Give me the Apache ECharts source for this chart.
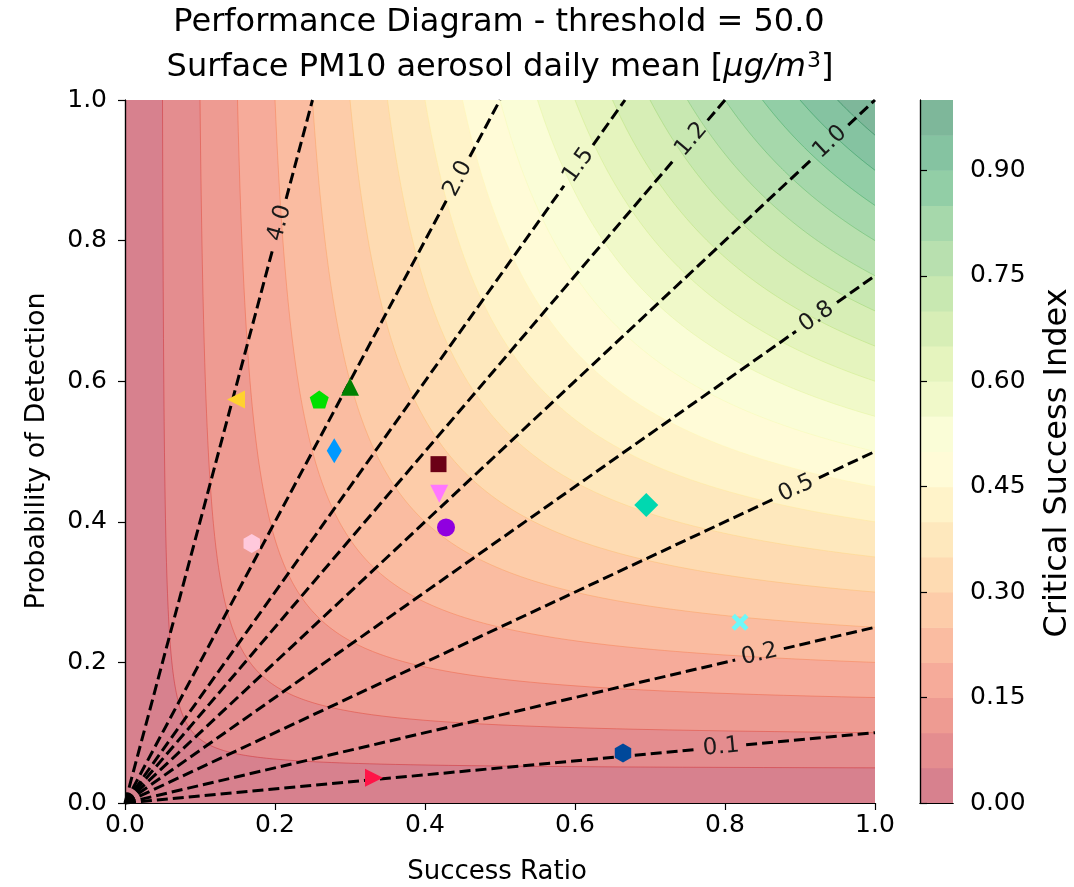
<!DOCTYPE html>
<html>
<head>
<meta charset="utf-8">
<title>Performance Diagram</title>
<script src="https://cdn.jsdelivr.net/npm/echarts@6/dist/echarts.min.js"></script>
<style>
  html, body { margin: 0; padding: 0; background: #ffffff; }
  #chart { width: 1074px; height: 887px; }
</style>
</head>
<body>
<div id="chart"></div>
<script>
// ---- data ---------------------------------------------------------------
// Verification scores of each forecast (success ratio, probability of detection)
const successRatio  = [0.148, 0.259, 0.300, 0.279, 0.418, 0.419, 0.428, 0.169, 0.695, 0.820, 0.664, 0.332];
const probDetection = [0.574, 0.574, 0.592, 0.501, 0.482, 0.440, 0.392, 0.369, 0.424, 0.257, 0.071, 0.036];

// Critical success index levels of the filled background
const csiLevels = [0.00, 0.05, 0.10, 0.15, 0.20, 0.25, 0.30, 0.35, 0.40, 0.45, 0.50,
                   0.55, 0.60, 0.65, 0.70, 0.75, 0.80, 0.85, 0.90, 0.95, 1.00];

// Frequency bias isolines
const biasLevels = [0.1, 0.25, 0.5, 0.75, 1.0, 1.25, 1.5, 2.0, 4.0];

// Tick labels
const axisTicks = [0.0, 0.2, 0.4, 0.6, 0.8, 1.0];
const colorbarTicks = [0.00, 0.15, 0.30, 0.45, 0.60, 0.75, 0.90];

// ---- styling ------------------------------------------------------------
const FONT = '"DejaVu Sans", "Liberation Sans", sans-serif';
const markerColors = ['#ffd22e', '#00e000', '#008000', '#0099ff', '#6b0016', '#ff77ff',
                      '#9000e0', '#ffc9dc', '#00d8b0', '#6ef8f8', '#00489a', '#ff1447'];
const markerShapes = ['triLeft', 'pentagon', 'triUp', 'thinDiamond', 'square', 'triDown',
                      'circle', 'hexagon', 'diamond', 'xFilled', 'hexagon', 'triRight'];
// where each bias label sits, as a fraction of its line length
const biasLabelAt = [0.795, 0.846, 0.895, 0.922, 0.94, 0.944, 0.907, 0.888, 0.825];

const SHAPES = {
  triUp:      { symbol: 'triangle', size: 18, rotate: 0 },
  triDown:    { symbol: 'triangle', size: 18, rotate: 180 },
  triLeft:    { symbol: 'triangle', size: 18, rotate: 90 },
  triRight:   { symbol: 'triangle', size: 18, rotate: -90 },
  square:     { symbol: 'rect', size: 16, rotate: 0 },
  circle:     { symbol: 'circle', size: 18, rotate: 0 },
  diamond:    { symbol: 'diamond', size: 24, rotate: 0 },
  thinDiamond:{ symbol: 'diamond', size: [15, 25], rotate: 0 },
  pentagon:   { symbol: 'path://M50,0L97.55,34.55L79.39,90.45L20.61,90.45L2.45,34.55Z', size: 19, rotate: 0 },
  hexagon:    { symbol: 'path://M50,0L93.3,25L93.3,75L50,100L6.7,75L6.7,25Z', size: 19, rotate: 0 },
  xFilled:    { symbol: 'path://M0,20L20,0L50,30L80,0L100,20L70,50L100,80L80,100L50,70L20,100L0,80L30,50Z', size: 17, rotate: 0 }
};

// RdYlGn colour ramp, shown semi-transparent over white
const RDYLGN = ['#a50026', '#d73027', '#f46d43', '#fdae61', '#fee08b', '#ffffbf',
                '#d9ef8b', '#a6d96a', '#66bd63', '#1a9850', '#006837'];
const FILL_ALPHA = 0.52;

function hexToRgb(h) {
  return [parseInt(h.slice(1, 3), 16), parseInt(h.slice(3, 5), 16), parseInt(h.slice(5, 7), 16)];
}
function rampColor(t) {
  const s = Math.max(0, Math.min(1, t)) * (RDYLGN.length - 1);
  const i = Math.min(RDYLGN.length - 2, Math.floor(s));
  const f = s - i;
  const a = hexToRgb(RDYLGN[i]), b = hexToRgb(RDYLGN[i + 1]);
  return a.map((v, k) => v + (b[k] - v) * f);
}
function overWhite(rgb, alpha) {
  const c = rgb.map(v => Math.round(255 - alpha * (255 - v)));
  return 'rgb(' + c.join(',') + ')';
}
function rgba(rgb, alpha) {
  return 'rgba(' + rgb.map(v => Math.round(v)).join(',') + ',' + alpha + ')';
}
// colour of band between csiLevels[i] and csiLevels[i+1]
function bandRgb(i) {
  return rampColor((csiLevels[i] + csiLevels[i + 1]) / 2);
}

// Iso-CSI curve: 1/SR + 1/POD = 1/c + 1, traced from (c, 1) to (1, c)
function csiCurve(c, steps) {
  const K = 1 / c + 1;
  const a0 = Math.atan2(1, c), a1 = Math.atan2(c, 1);
  const pts = [];
  for (let k = 0; k <= steps; k++) {
    const th = a0 + (a1 - a0) * k / steps;
    const tn = Math.tan(th);
    pts.push([(1 + 1 / tn) / K, (1 + tn) / K]);
  }
  return pts;
}

// one-decimal label, rounding halves to even
function fmt1(v) {
  const s = v * 10, f = Math.floor(s + 1e-9);
  const r = Math.abs(s - f - 0.5) < 1e-9 ? (f % 2 === 0 ? f : f + 1) : Math.round(s);
  return (r / 10).toFixed(1);
}

const bands = csiLevels.slice(0, -1).map((lo, i) => [lo, csiLevels[i + 1]]);

const points = successRatio.map((sr, i) => {
  const sh = SHAPES[markerShapes[i]];
  return {
    value: [sr, probDetection[i]],
    symbol: sh.symbol,
    symbolSize: sh.size,
    symbolRotate: sh.rotate,
    itemStyle: { color: markerColors[i], opacity: 1 }
  };
});

const frameLine = { show: true, lineStyle: { color: '#000', width: 1.2 } };
const tickStyle = { show: true, inside: false, length: 7, lineStyle: { color: '#000', width: 1.2 } };
const tickLabel = { color: '#000', fontSize: 25, fontFamily: FONT };

const chart = echarts.init(document.getElementById('chart'), null, { renderer: 'canvas' });

chart.setOption({
  backgroundColor: '#ffffff',
  animation: false,
  grid: [
    { left: 125, top: 100, width: 750, height: 703 },
    { left: 920, top: 100, width: 33, height: 703 }
  ],
  xAxis: [
    { type: 'value', gridIndex: 0, position: 'bottom', min: 0, max: 1, interval: 0.2, z: 10,
      axisLine: frameLine, axisTick: tickStyle, splitLine: { show: false },
      axisLabel: Object.assign({ margin: 10, formatter: v => v.toFixed(1) }, tickLabel) },
    { type: 'value', gridIndex: 0, position: 'top', min: 0, max: 1, z: 10,
      axisLine: frameLine, axisTick: { show: false }, axisLabel: { show: false }, splitLine: { show: false } },
    { type: 'value', gridIndex: 1, position: 'bottom', min: 0, max: 1, z: 10,
      axisLine: frameLine, axisTick: { show: false }, axisLabel: { show: false }, splitLine: { show: false } },
    { type: 'value', gridIndex: 1, position: 'top', min: 0, max: 1, z: 10,
      axisLine: frameLine, axisTick: { show: false }, axisLabel: { show: false }, splitLine: { show: false } }
  ],
  yAxis: [
    { type: 'value', gridIndex: 0, position: 'left', min: 0, max: 1, interval: 0.2, z: 10,
      axisLine: frameLine, axisTick: tickStyle, splitLine: { show: false },
      axisLabel: Object.assign({ margin: 18, formatter: v => v.toFixed(1) }, tickLabel) },
    { type: 'value', gridIndex: 0, position: 'right', min: 0, max: 1, z: 10,
      axisLine: frameLine, axisTick: { show: false }, axisLabel: { show: false }, splitLine: { show: false } },
    { type: 'value', gridIndex: 1, position: 'right', min: 0, max: 1, z: 10,
      axisLine: frameLine, splitLine: { show: false },
      axisTick: Object.assign({ customValues: colorbarTicks }, tickStyle),
      axisLabel: Object.assign({ margin: 17, customValues: colorbarTicks, formatter: v => v.toFixed(2) }, tickLabel) },
    { type: 'value', gridIndex: 1, position: 'left', min: 0, max: 1, z: 10,
      axisLine: frameLine, axisTick: { show: false }, axisLabel: { show: false }, splitLine: { show: false } }
  ],
  series: [
    // filled CSI background: each item paints the region CSI >= lower level
    {
      type: 'custom', xAxisIndex: 0, yAxisIndex: 0, z: 1, silent: true,
      data: bands,
      renderItem: function (params, api) {
        const i = params.dataIndex;
        const lo = api.value(0);
        const rgb = bandRgb(i);
        if (lo <= 0) {
          const corners = [[0, 0], [1, 0], [1, 1], [0, 1]].map(p => api.coord(p));
          return { type: 'polygon', shape: { points: corners }, style: { fill: overWhite(rgb, FILL_ALPHA) } };
        }
        const curve = csiCurve(lo, 160).map(p => api.coord(p));
        const region = curve.concat([api.coord([1, 1])]);
        return {
          type: 'group',
          children: [
            { type: 'polygon', shape: { points: region }, style: { fill: overWhite(rgb, FILL_ALPHA) } },
            { type: 'polyline', shape: { points: curve }, style: { stroke: rgba(rgb, 0.45), lineWidth: 1, fill: null } }
          ]
        };
      }
    },
    // frequency bias isolines with inline labels
    {
      type: 'custom', xAxisIndex: 0, yAxisIndex: 0, z: 3, silent: true,
      data: biasLevels.map(b => [b]),
      renderItem: function (params, api) {
        const b = api.value(0);
        const end = b >= 1 ? [1 / b, 1] : [1, b];
        const p0 = api.coord([0, 0]), p1 = api.coord(end);
        const dx = p1[0] - p0[0], dy = p1[1] - p0[1];
        const len = Math.hypot(dx, dy);
        const ux = dx / len, uy = dy / len;
        const t = biasLabelAt[params.dataIndex];
        const cx = p0[0] + dx * t, cy = p0[1] + dy * t;
        const half = 25;
        const st = { stroke: '#000', lineWidth: 3, lineDash: [11, 5], fill: null };
        return {
          type: 'group',
          children: [
            { type: 'line', shape: { x1: p0[0], y1: p0[1], x2: cx - ux * half, y2: cy - uy * half }, style: st },
            { type: 'line', shape: { x1: cx + ux * half, y1: cy + uy * half, x2: p1[0], y2: p1[1] }, style: st },
            { type: 'text', x: cx, y: cy, rotation: Math.atan2(-dy, dx),
              style: { text: fmt1(b), fill: '#1a1a1a', fontSize: 23, fontFamily: FONT,
                       align: 'center', verticalAlign: 'middle', textAlign: 'center', textVerticalAlign: 'middle' } }
          ]
        };
      }
    },
    // forecast scores
    {
      type: 'scatter', xAxisIndex: 0, yAxisIndex: 0, z: 5, symbolKeepAspect: true,
      itemStyle: { opacity: 1 },
      data: points
    },
    // colour bar
    {
      type: 'custom', xAxisIndex: 2, yAxisIndex: 2, z: 1, silent: true,
      data: bands,
      renderItem: function (params, api) {
        const lo = api.value(0), hi = api.value(1);
        const a = api.coord([0, hi]), b = api.coord([1, lo]);
        return {
          type: 'rect',
          shape: { x: a[0], y: a[1], width: b[0] - a[0], height: b[1] - a[1] + 0.5 },
          style: { fill: overWhite(bandRgb(params.dataIndex), FILL_ALPHA) }
        };
      }
    }
  ],
  graphic: [
    { type: 'text', x: 499, y: 23, silent: true,
      style: { text: 'Performance Diagram - threshold = 50.0', fill: '#000', fontSize: 32, fontFamily: FONT,
               align: 'center', verticalAlign: 'middle' } },
    { type: 'text', x: 500, y: 68, silent: true,
      style: { text: 'Surface PM10 aerosol daily mean [{it|μg/m}{sup|3}]', fill: '#000', fontSize: 32, fontFamily: FONT,
               align: 'center', verticalAlign: 'middle',
               rich: {
                 it: { fontSize: 32, fontFamily: FONT, fontStyle: 'italic', fill: '#000' },
                 sup: { fontSize: 22, fontFamily: FONT, fill: '#000', verticalAlign: 'top', padding: [0, 0, 13, 1] }
               } } },
    { type: 'text', x: 497, y: 872, silent: true,
      style: { text: 'Success Ratio', fill: '#000', fontSize: 26, fontFamily: FONT,
               align: 'center', verticalAlign: 'middle' } },
    { type: 'text', x: 37, y: 451, rotation: Math.PI / 2, silent: true,
      style: { text: 'Probability of Detection', fill: '#000', fontSize: 27, fontFamily: FONT,
               align: 'center', verticalAlign: 'middle' } },
    { type: 'text', x: 1058, y: 463, rotation: Math.PI / 2, silent: true,
      style: { text: 'Critical Success Index', fill: '#000', fontSize: 32, fontFamily: FONT,
               align: 'center', verticalAlign: 'middle' } }
  ]
});
</script>
</body>
</html>
